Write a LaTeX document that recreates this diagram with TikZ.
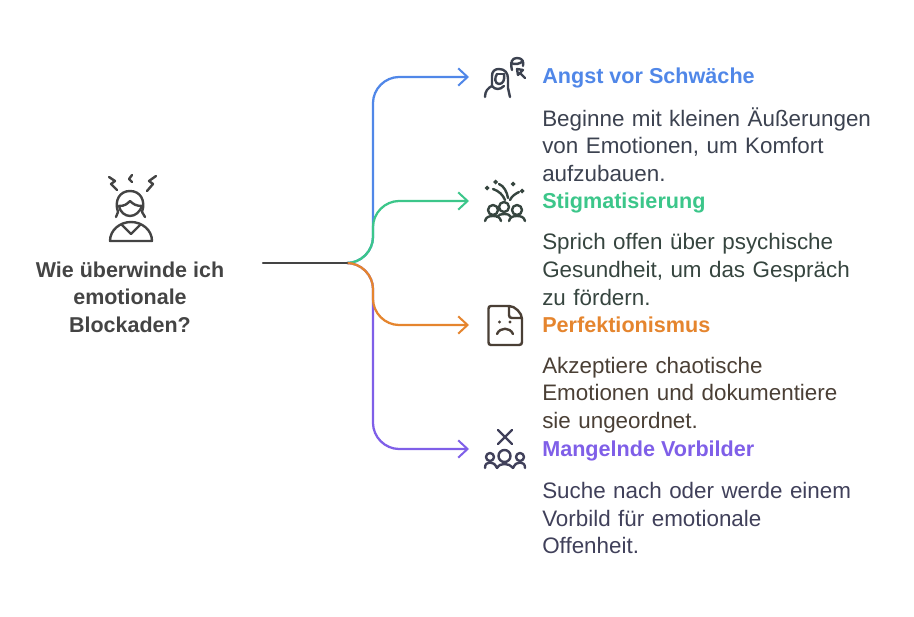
\documentclass[tikz,border=0pt]{standalone}
\usepackage{fontspec}
\setmainfont{Liberation Sans}
\usetikzlibrary{arrows.meta}
\definecolor{stemcol}{HTML}{444444}
\definecolor{bluecol}{HTML}{5087E8}
\definecolor{greencol}{HTML}{3CC68A}
\definecolor{orangecol}{HTML}{E5852E}
\definecolor{purplecol}{HTML}{7F5FE8}
\definecolor{bluetext}{HTML}{3C4250}
\definecolor{greentext}{HTML}{36453F}
\definecolor{orangetext}{HTML}{4A3F35}
\definecolor{purpletext}{HTML}{40405A}
\tikzset{
	branch/.style={line width=1.7pt,line cap=round},
	tip/.style={-{Straight Barb[length=7pt,width=13pt,line width=1.5pt]}},
	icon/.style={line width=1.8pt,line cap=round,line join=round},
	heading/.style={anchor=west,inner sep=0pt,text height=12pt,text depth=3pt,font=\fontsize{16.2}{20}\selectfont\bfseries},
	body/.style={anchor=north west,inner sep=0pt,text width=260pt,align=left,font=\fontsize{16.8}{20.7}\selectfont},
	question/.style={align=center,inner sep=0pt,text=stemcol,font=\fontsize{16.1}{20.6}\selectfont\bfseries}
}
\begin{document}
\begin{tikzpicture}[x=0.75pt,y=-0.75pt]
	\useasboundingbox (0,0) rectangle (914,617);
	% question
	\node[question] (ask) at (130,297) {Wie überwinde ich\\emotionale\\Blockaden?};
	\coordinate (start) at (263,263);
	\coordinate (fork) at (347,263);
	\coordinate (up) at (373,237);
	\coordinate (down) at (373,289);
	% headings and texts
	\node[heading,text=bluecol] (angst) at (542,78) {Angst vor Schwäche};
	\node[body,text=bluetext] (angsttext) at (542,107) {Beginne mit kleinen Äußerungen\\von Emotionen, um Komfort\\aufzubauen.};
	\node[heading,text=greencol] (stigma) at (542,202) {Stigmatisierung};
	\node[body,text=greentext] (stigmatext) at (542,233.5) {Sprich offen über psychische\\Gesundheit, um das Gespräch\\zu fördern.};
	\node[heading,text=orangecol] (perfekt) at (542,326) {Perfektionismus};
	\node[body,text=orangetext] (perfekttext) at (542,356.5) {Akzeptiere chaotische\\Emotionen und dokumentiere\\sie ungeordnet.};
	\node[heading,text=purplecol] (vorbild) at (542,450) {Mangelnde Vorbilder};
	\node[body,text=purpletext] (vorbildtext) at (542,482) {Suche nach oder werde einem\\Vorbild für emotionale\\Offenheit.};
	\coordinate (angstend) at (469,77);
	\coordinate (stigmaend) at (469,201);
	\coordinate (perfektend) at (469,325);
	\coordinate (vorbildend) at (469,449);
	% branches
	\draw[branch,tip,bluecol] (fork) .. controls (361,263) and (373,251) .. (up) -- (373,103) .. controls (373,89) and (385,77) .. (399,77) -- (angstend);
	\draw[branch,tip,purplecol] (fork) .. controls (361,263) and (373,275) .. (down) -- (373,423) .. controls (373,437) and (385,449) .. (399,449) -- (vorbildend);
	\draw[branch,tip,greencol] (fork) .. controls (361,263) and (373,251) .. (up) -- (373,227) .. controls (373,213) and (385,201) .. (399,201) -- (stigmaend);
	\draw[branch,tip,orangecol] (fork) .. controls (361,263) and (373,275) .. (down) -- (373,299) .. controls (373,313) and (385,325) .. (399,325) -- (perfektend);
	\draw[branch,stemcol] (start) -- (fork);
	% icon of the question
	\begin{scope}[icon,stemcol]
		\draw (109,177) -- (115,181) -- (111,184) -- (117,190);
		\draw (132,175) -- (129,179) -- (132,182);
		\draw (156,176) -- (149,181) -- (153,184) -- (147,191);
		\draw (118,212) .. controls (114,200) and (120,191) .. (130,191) .. controls (140,191) and (146,200) .. (142,212);
		\draw (119,206) .. controls (125,206) and (127,204) .. (130,201) .. controls (133,204) and (136,206) .. (142,206);
		\draw (119,206) .. controls (120,212) and (125,216) .. (130,216) .. controls (135,216) and (140,212) .. (142,206);
		\draw (118,212) -- (116,217);
		\draw (142,212) -- (145,217);
		\draw (110,241) .. controls (110,230) and (120,222) .. (131,222) .. controls (142,222) and (152,230) .. (152,241) -- cycle;
		\draw (122,225) -- (131,234) -- (140,225);
	\end{scope}
	% icon 1
	\begin{scope}[icon,bluetext]
		\draw (485,97) .. controls (485,91) and (488,88) .. (492,86) .. controls (495,90) and (500,90) .. (504,86);
		\draw (492,86) -- (492,76) .. controls (492,71) and (495,69) .. (499,69) .. controls (505,69) and (508,73) .. (508,79) -- (508,88) -- (510,97);
		\draw (497,74) .. controls (494,78) and (495,84) .. (499,84) .. controls (503,84) and (505,80) .. (504,74);
		\draw (497,74) -- (504,74);
		\draw (512,70) .. controls (510,62) and (512,58) .. (517,58) .. controls (522,58) and (524,61) .. (523,66);
		\draw (511,63) .. controls (515,65) and (520,64) .. (523,61);
		\draw (517,69) -- (518,75) -- (520,73) -- (525,78);
		\draw (517,69) -- (523,70) -- (520,73);
	\end{scope}
	% icon 2
	\begin{scope}[icon,greentext]
		\foreach \hx/\hy in {493/210,504/207,517/210} {
			\draw (\hx,\hy) circle (5);
		}
		\draw (485,221) .. controls (486,217) and (489,216) .. (493,216) .. controls (497,216) and (500,217) .. (501,221);
		\draw (497,217) .. controls (499,214.5) and (501,214) .. (504,214) .. controls (508,214) and (510,215) .. (511,217);
		\draw (509,221) .. controls (510,217) and (513,216) .. (517,216) .. controls (521,216) and (524,217) .. (525,221);
		\draw (493,189) .. controls (499,191) and (503,195) .. (505,200);
		\draw (499,184) .. controls (504,186) and (507,192) .. (508,198);
		\draw (510,200) .. controls (512,196) and (515,194) .. (519,192);
		\foreach \sx/\sy in {487/188,495.5/182,513/184,522/191} {
			\fill (\sx-2.5,\sy) -- (\sx,\sy-2.5) -- (\sx+2.5,\sy) -- (\sx,\sy+2.5) -- cycle;
		}
	\end{scope}
	% icon 3
	\begin{scope}[icon,orangetext]
		\draw (509,306) -- (491,306) .. controls (489,306) and (488.5,307) .. (488.5,309) -- (488.5,342) .. controls (488.5,344) and (489,345) .. (491,345) -- (519,345) .. controls (521,345) and (522,344) .. (522,342) -- (522,319) .. controls (522,313) and (515,306) .. (509,306) -- (509,315) .. controls (509,317) and (510,318) .. (512,318) -- (522,318);
		\fill (499.5,322) circle (1.6);
		\fill (510,322) circle (1.6);
		\draw (497,334) .. controls (500,327) and (510,327) .. (513,334);
	\end{scope}
	% icon 4
	\begin{scope}[icon,purpletext]
		\draw (498,430) -- (512,444);
		\draw (512,430) -- (498,444);
		\draw (504.5,456) circle (6);
		\draw (490,457) circle (4);
		\draw (520,457) circle (4);
		\draw (485,468) .. controls (485,464) and (487,462.5) .. (490,462.5) .. controls (493,462.5) and (495,464) .. (497,468);
		\draw (497,468) .. controls (499,465) and (501,464) .. (504.5,464) .. controls (508,464) and (510,465) .. (513,468);
		\draw (513,468) .. controls (515,464) and (517,462.5) .. (520,462.5) .. controls (523,462.5) and (525,464) .. (525,468);
	\end{scope}
\end{tikzpicture}
\end{document}
